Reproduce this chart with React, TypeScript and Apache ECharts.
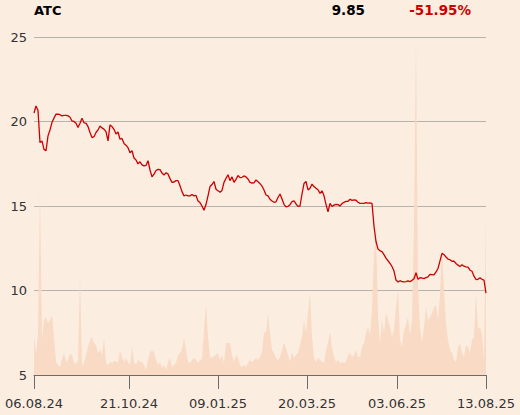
import React, { useEffect, useRef } from 'react';
import * as echarts from 'echarts';

const TICKER = 'ATC';
const LAST_PRICE = '9.85';
const CHANGE = '-51.95%';

// daily closing prices, first to last trading day
const PRICE = [
  20.5, 20.92, 20.65, 18.75, 18.85, 18.35, 18.27, 19.15, 19.5, 19.95,
  20.2, 20.44, 20.43, 20.4, 20.33, 20.36, 20.36, 20.34, 20.25, 20.03,
  20.0, 19.9, 19.65, 19.9, 20.19, 19.92, 19.9, 19.7, 19.35, 19.05,
  19.1, 19.35, 19.5, 19.73, 19.62, 19.55, 19.4, 18.85, 19.8, 19.7,
  19.54, 19.26, 19.38, 18.95, 19.0, 18.7, 18.6, 18.45, 18.15, 18.27,
  17.84, 17.72, 17.49, 17.62, 17.43, 17.37, 17.4, 17.68, 17.13, 16.72,
  16.89, 17.1, 17.17, 17.15, 16.95, 16.83, 16.97, 16.9, 16.62, 16.4,
  16.42, 16.5, 16.5, 16.2, 15.85, 15.6, 15.65, 15.6, 15.6, 15.68,
  15.6, 15.63, 15.3, 15.2, 15.0, 14.75, 15.1, 15.6, 16.15, 16.27,
  16.45, 15.99, 15.9, 15.82, 15.92, 16.4, 16.64, 16.85, 16.5, 16.72,
  16.4, 16.58, 16.8, 16.68, 16.7, 16.78, 16.72, 16.6, 16.4, 16.36,
  16.37, 16.54, 16.44, 16.32, 16.18, 15.95, 15.65, 15.6, 15.4, 15.3,
  15.22, 15.25, 15.5, 15.71, 15.42, 15.1, 14.95, 14.98, 15.08, 15.26,
  15.3, 15.12, 14.98, 15.0, 15.71, 16.33, 16.45, 15.95, 16.05, 16.3,
  16.15, 16.05, 15.96, 15.75, 15.9, 15.6, 15.1, 14.65, 15.16, 14.97,
  15.05, 15.1, 15.08, 15.0, 15.14, 15.22, 15.27, 15.28, 15.4, 15.33,
  15.36, 15.34, 15.22, 15.16, 15.16, 15.15, 15.2, 15.17, 15.18, 15.16,
  13.8, 12.9, 12.45, 12.35, 12.3, 12.12, 11.92, 11.76, 11.61, 11.42,
  11.15, 10.62, 10.5, 10.58, 10.52, 10.51, 10.53, 10.57, 10.52, 10.6,
  10.7, 11.05, 10.66, 10.76, 10.74, 10.7, 10.76, 10.8, 10.96, 10.94,
  10.92, 11.1, 11.3, 11.75, 12.2, 12.12, 11.98, 11.86, 11.82, 11.73,
  11.74, 11.6, 11.5, 11.42, 11.53, 11.44, 11.4, 11.38, 11.2, 11.14,
  10.85, 10.65, 10.66, 10.75, 10.66, 10.62, 9.85,
];

// daily traded volume (relative units)
const VOLUME = [
  39, 22, 40, 185, 35, 55, 58, 52, 55, 60,
  38, 13, 10, 8, 16, 22, 13, 15, 21, 20,
  12, 11, 15, 98, 9, 12, 20, 28, 35, 38,
  32, 30, 22, 25, 20, 37, 12, 10, 13, 12,
  14, 14, 12, 25, 18, 13, 17, 13, 10, 28,
  13, 10, 15, 13, 13, 10, 5, 15, 23, 24,
  23, 15, 10, 13, 7, 10, 5, 13, 17, 8,
  10, 12, 20, 22, 25, 38, 25, 13, 12, 15,
  17, 15, 12, 15, 16, 45, 71, 38, 18, 17,
  19, 20, 22, 15, 20, 12, 32, 32, 32, 20,
  13, 20, 17, 10, 8, 10, 8, 12, 15, 13,
  15, 17, 15, 18, 23, 43, 42, 62, 42, 25,
  22, 17, 15, 18, 25, 32, 27, 20, 13, 23,
  17, 20, 22, 30, 38, 55, 42, 62, 82, 38,
  17, 13, 17, 15, 13, 12, 25, 32, 43, 28,
  18, 13, 15, 12, 13, 12, 13, 20, 22, 18,
  20, 25, 18, 18, 28, 32, 42, 48, 40, 65,
  120, 142, 60, 30, 55, 42, 62, 55, 48, 38,
  45, 68, 85, 35, 28, 45, 50, 58, 40, 55,
  150, 338, 90, 48, 32, 48, 68, 55, 58, 62,
  68, 70, 55, 80, 125, 85, 52, 35, 25, 22,
  15, 13, 28, 32, 22, 18, 30, 28, 22, 35,
  38, 82, 46, 48, 40, 15, 160,
];

const X_TICK_POS = [0, 47.5, 92, 136.5, 181.5, 226];
const X_TICK_LABELS = ['06.08.24', '21.10.24', '09.01.25', '20.03.25', '03.06.25', '13.08.25'];
const Y_MIN = 5;
const Y_MAX = 25;
const Y_STEP = 5;
const VOLUME_AXIS_MAX = 338;

const BG = '#fcede1';
const FONT = 'DejaVu Sans';

export default function App() {
  const ref = useRef<HTMLDivElement>(null);

  useEffect(() => {
    document.body.style.margin = '0';
    document.body.style.background = BG;
    const chart = echarts.init(ref.current!, null, { renderer: 'svg' });
    chart.setOption({
      animation: false,
      backgroundColor: BG,
      textStyle: { fontFamily: FONT },
      grid: { left: 34, right: 34, top: 37, bottom: 40, containLabel: false },
      graphic: [
        {
          type: 'text', x: 34, y: 10,
          style: { text: TICKER, fill: '#000', fontFamily: FONT, fontWeight: 'bold', fontSize: 13, align: 'left', verticalAlign: 'middle' },
        },
        {
          type: 'text', x: 365, y: 10,
          style: { text: LAST_PRICE, fill: '#000', fontFamily: FONT, fontWeight: 'bold', fontSize: 13.5, align: 'right', verticalAlign: 'middle' },
        },
        {
          type: 'text', x: 471, y: 10,
          style: { text: CHANGE, fill: '#cc0000', fontFamily: FONT, fontWeight: 'bold', fontSize: 13.5, align: 'right', verticalAlign: 'middle' },
        },
      ],
      xAxis: {
        type: 'value',
        min: 0,
        max: PRICE.length - 1,
        splitLine: { show: false },
        axisLine: { show: true, lineStyle: { color: '#6b6b6b', width: 1 } },
        axisTick: { show: true, length: 14, customValues: X_TICK_POS, lineStyle: { color: '#6b6b6b' } },
        axisLabel: {
          customValues: X_TICK_POS,
          margin: 22,
          color: '#333',
          fontSize: 13,
          fontFamily: FONT,
          hideOverlap: false,
          formatter: (v: number) => {
            const k = X_TICK_POS.indexOf(v);
            return k >= 0 ? X_TICK_LABELS[k] : '';
          },
        },
      },
      yAxis: [
        {
          type: 'value',
          min: Y_MIN,
          max: Y_MAX,
          interval: Y_STEP,
          axisLine: { show: false },
          axisTick: { show: false },
          axisLabel: { color: '#333', fontSize: 13, fontFamily: FONT, margin: 7 },
          splitLine: { show: true, lineStyle: { color: '#b8b2ac', width: 1 } },
        },
        {
          type: 'value',
          min: 0,
          max: VOLUME_AXIS_MAX,
          show: false,
          splitLine: { show: false },
        },
      ],
      series: [
        {
          type: 'line',
          yAxisIndex: 1,
          data: VOLUME.map((v, i) => [i, v]),
          symbol: 'none',
          lineStyle: { width: 0 },
          areaStyle: { color: '#f8dac5', opacity: 1 },
          z: 1,
          silent: true,
        },
        {
          type: 'line',
          yAxisIndex: 0,
          data: PRICE.map((v, i) => [i, v]),
          symbol: 'none',
          lineStyle: { color: '#cc0000', width: 1.3 },
          z: 3,
          silent: true,
        },
      ],
    });
    return () => chart.dispose();
  }, []);

  return <div ref={ref} style={{ width: 520, height: 415, background: BG }} />;
}
